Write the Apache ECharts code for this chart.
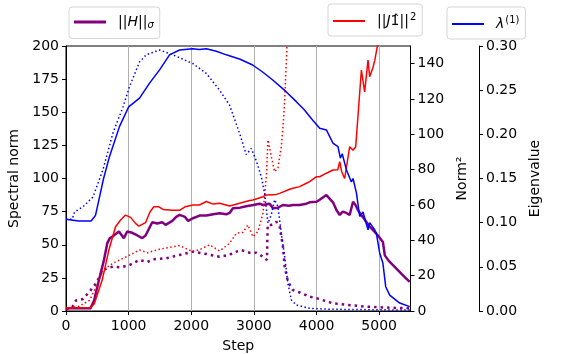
<!DOCTYPE html>
<html>
<head>
<meta charset="utf-8">
<script src="https://cdn.jsdelivr.net/npm/echarts@6/dist/echarts.min.js"></script>
<style>
html,body{margin:0;padding:0;background:#fff;}
#chart{width:569px;height:354px;}
</style>
</head>
<body>
<div id="chart"></div>
<script>
// ||H||_sigma (left axis, spectral norm)
var hSolidStep = [0,390,450,524,604,658,700,738,790,844,924,977,1057,1140,1217,1270,1377,1457,1537,1590,1697,1760,1813,1900,1950,2026,2133,2240,2350,2452,2560,2612,2665,2780,2878,2990,3091,3144,3251,3304,3384,3464,3560,3623,3730,3837,3890,4000,4050,4157,4262,4320,4370,4420,4476,4529,4582,4622,4662,4720,4768,4840,4902,4980,5060,5090,5150,5275,5400,5487];
var hSolid     = [2,2,8,23,38,51,55,56,58,60,55,60,59,57,55,57,67,66,67,65,68,71,72.5,71,68,70,72,72,73,73.7,73,74,77.5,78,79,80,81,80,81,77.5,78,80,79.5,80,80,81,82,82.5,84,87.5,82,76,72.5,75,74,72.5,82.5,80,76,72,69,64,61,57,52,42,38,32,26,22];
var hDotStep = [0,100,160,270,375,482,588,748,880,1014,1174,1300,1387,1600,1813,2026,2240,2452,2612,2665,2798,2931,3038,3144,3208,3220,3278,3358,3411,3464,3491,3544,3624,3730,3890,4050,4260,4500,4795,5100,5487];
var hDot     = [1,3,8,9,14.6,21,31,33.5,33,34.7,38.5,37,39,39.8,42.3,44.8,43,41,42.3,44,46,44,44,41,38.5,65,65,67.4,64,48.5,33.4,22,15.8,14,10.8,9,5.8,4.5,3.3,2.6,2];

// ||J 1^||^2 (norm^2 axis)
var jSolidStep = [0,390,450,578,684,791,871,951,1031,1110,1163,1270,1340,1403,1483,1550,1706,1813,1900,2026,2130,2240,2350,2452,2612,2772,2931,2985,3144,3198,3358,3411,3570,3623,3730,3837,3890,4000,4050,4157,4262,4340,4370,4400,4449,4529,4582,4625,4716,4768,4822,4848,4902,4930,4982];
var jSolid     = [1.9,2,4,17.5,34.5,47.7,51.5,54.3,53,49.6,48,50,56,59,59,57.5,57,57,59,60,60,62,60.5,61,59.4,61,62.5,62.8,64.7,65.7,66,66.6,68.9,69.5,70.4,72.3,73.2,76,76,78,79.8,80,84.5,79,75,93,91,93,136.4,124,142,132.6,138,142,152];
var jDotStep = [0,200,375,482,588,748,962,1174,1300,1494,1706,1813,2026,2150,2292,2452,2612,2719,2825,2905,2985,3064,3144,3198,3224,3278,3331,3384,3437,3464,3491,3530];
var jDot     = [1.5,2.5,6,13.8,23,27,30.7,34.5,33,35,36.4,37,33.6,35,37.4,34,38.3,44,44.5,48.7,42,45,55.3,76,96.8,87.3,78.8,81,93,104,119.4,152];

// lambda^(1) (eigenvalue axis)
var lamSolidStep = [0,200,400,470,535,600,695,855,1000,1174,1334,1494,1653,1813,2021,2130,2240,2400,2559,2780,2980,3150,3300,3518,3677,3800,3940,4050,4157,4262,4342,4380,4410,4476,4556,4582,4636,4689,4742,4822,4848,4928,4955,5008,5060,5104,5168,5328,5487];
var lamSolid     = [0.104,0.102,0.102,0.108,0.129,0.150,0.175,0.209,0.231,0.241,0.258,0.273,0.290,0.2955,0.297,0.296,0.297,0.294,0.290,0.285,0.2785,0.27,0.2615,0.248,0.237,0.228,0.216,0.207,0.205,0.190,0.186,0.173,0.178,0.160,0.146,0.150,0.134,0.107,0.112,0.092,0.100,0.092,0.088,0.0657,0.054,0.0275,0.018,0.009,0.005];
var lamDotStep = [0,100,135,270,430,590,750,910,1014,1174,1281,1494,1706,2026,2240,2452,2612,2772,2878,2958,3038,3118,3171,3224,3278,3331,3384,3437,3491,3544,3597,3677,3890,4200,5487];
var lamDot     = [0.104,0.104,0.112,0.118,0.129,0.160,0.2015,0.231,0.254,0.282,0.290,0.2955,0.290,0.280,0.269,0.250,0.233,0.201,0.177,0.184,0.170,0.152,0.133,0.0993,0.109,0.126,0.118,0.088,0.0615,0.031,0.0125,0.0068,0.003,0.002,0.001];

var stepTicks = [0,1000,2000,3000,4000,5000];
var normTicks = [0,20,40,60,80,100,120,140];

function pairs(xs, ys) {
    return xs.map(function (x, i) { return [x, ys[i]]; });
}

var FONT = 'DejaVu Sans';
var PURPLE = '#800080', RED = '#ff0000', BLUE = '#0000ff';

var richText = {
    i:   {fontFamily: FONT, fontSize: 14, fontStyle: 'italic', color: '#000'},
    sub: {fontFamily: FONT, fontSize: 10, fontStyle: 'italic', color: '#000', padding: [7, 0, 0, 0]},
    sup: {fontFamily: FONT, fontSize: 10, color: '#000', padding: [0, 0, 8, 1]}
};

function legendBox(name, left, top, lw) {
    return {
        data: [{name: name, icon: 'rect', itemStyle: {color: name === 'H' ? PURPLE : (name === 'J' ? RED : BLUE)}}],
        left: left, top: top,
        itemWidth: 32, itemHeight: lw,
        padding: [8, 6, 8, 5],
        borderColor: '#d6d6d6', borderWidth: 1, borderRadius: 3,
        backgroundColor: '#fff',
        formatter: function (n) {
            if (n === 'H') return '||{i|H}||{sub|σ}';
            if (n === 'J') return '||{i|J}1̂||{sup|2}';
            return '{i|λ}{sup|(1)}';
        },
        textStyle: {fontFamily: FONT, fontSize: 14, color: '#000', padding: [0, 0, 0, 7], rich: richText}
    };
}

var chart = echarts.init(document.getElementById('chart'));

var option = {
    animation: false,
    backgroundColor: '#fff',
    textStyle: {fontFamily: FONT},
    grid: {left: 66, right: 158.5, top: 46, bottom: 43, outerBoundsMode: 'none', containLabel: false,
        show: true, borderColor: '#000', borderWidth: 1, backgroundColor: 'transparent'},
    legend: [
        legendBox('H', 69, 7, 3),
        legendBox('J', 328, 4, 2),
        legendBox('L', 447, 7, 2)
    ],
    xAxis: {
        type: 'value', min: 0, max: 5500, interval: 1000,
        name: 'Step', nameLocation: 'middle', nameGap: 28,
        nameTextStyle: {fontFamily: FONT, fontSize: 14, color: '#000'},
        axisLine: {lineStyle: {color: '#000', width: 1}},
        axisTick: {length: 4, lineStyle: {color: '#000'}, customValues: stepTicks},
        axisLabel: {fontFamily: FONT, fontSize: 14, color: '#000', margin: 8, customValues: stepTicks,
            formatter: function (v) { return String(v); }},
        splitLine: {show: true, lineStyle: {color: '#b0b0b0', width: 1}}
    },
    yAxis: [
        {
            type: 'value', min: 0, max: 200, interval: 25, position: 'left',
            name: 'Spectral norm', nameLocation: 'middle', nameGap: 42,
            nameTextStyle: {fontFamily: FONT, fontSize: 14, color: '#000'},
            axisLine: {show: true, lineStyle: {color: '#000'}},
            axisTick: {show: true, length: 4, lineStyle: {color: '#000'}},
            axisLabel: {fontFamily: FONT, fontSize: 14, color: '#000', margin: 7},
            splitLine: {show: false}
        },
        {
            type: 'value', min: 0, max: 150, interval: 20, position: 'right',
            name: 'Norm²', nameLocation: 'middle', nameGap: 40,
            nameTextStyle: {fontFamily: FONT, fontSize: 14, color: '#000'},
            axisLine: {show: true, lineStyle: {color: '#000'}},
            axisTick: {show: true, length: 4, lineStyle: {color: '#000'}, customValues: normTicks},
            axisLabel: {fontFamily: FONT, fontSize: 14, color: '#000', margin: 7, customValues: normTicks},
            splitLine: {show: false}
        },
        {
            type: 'value', min: 0, max: 0.3, interval: 0.05, position: 'right', offset: 68.5,
            name: 'Eigenvalue', nameLocation: 'middle', nameGap: 48,
            nameTextStyle: {fontFamily: FONT, fontSize: 14, color: '#000'},
            axisLine: {show: true, lineStyle: {color: '#000'}},
            axisTick: {show: true, length: 4, lineStyle: {color: '#000'}},
            axisLabel: {fontFamily: FONT, fontSize: 14, color: '#000', margin: 7,
                formatter: function (v) { return v.toFixed(2); }},
            splitLine: {show: false}
        }
    ],
    series: [
        {name: 'H', type: 'line', yAxisIndex: 0, showSymbol: false, data: pairs(hSolidStep, hSolid),
            lineStyle: {color: PURPLE, width: 2.5}, itemStyle: {color: PURPLE}},
        {name: 'H dotted', type: 'line', yAxisIndex: 0, showSymbol: false, data: pairs(hDotStep, hDot),
            lineStyle: {color: PURPLE, width: 2.5, type: [2.5, 4]}, itemStyle: {color: PURPLE}},
        {name: 'J', type: 'line', yAxisIndex: 1, showSymbol: false, data: pairs(jSolidStep, jSolid),
            lineStyle: {color: RED, width: 1.5}, itemStyle: {color: RED}},
        {name: 'J dotted', type: 'line', yAxisIndex: 1, showSymbol: false, data: pairs(jDotStep, jDot),
            lineStyle: {color: RED, width: 1.5, type: [1.5, 2.5]}, itemStyle: {color: RED}},
        {name: 'L', type: 'line', yAxisIndex: 2, showSymbol: false, data: pairs(lamSolidStep, lamSolid),
            lineStyle: {color: BLUE, width: 1.5}, itemStyle: {color: BLUE}},
        {name: 'L dotted', type: 'line', yAxisIndex: 2, showSymbol: false, data: pairs(lamDotStep, lamDot),
            lineStyle: {color: BLUE, width: 1.5, type: [1.5, 2.5]}, itemStyle: {color: BLUE}}
    ]
};

chart.setOption(option);
</script>
</body>
</html>
